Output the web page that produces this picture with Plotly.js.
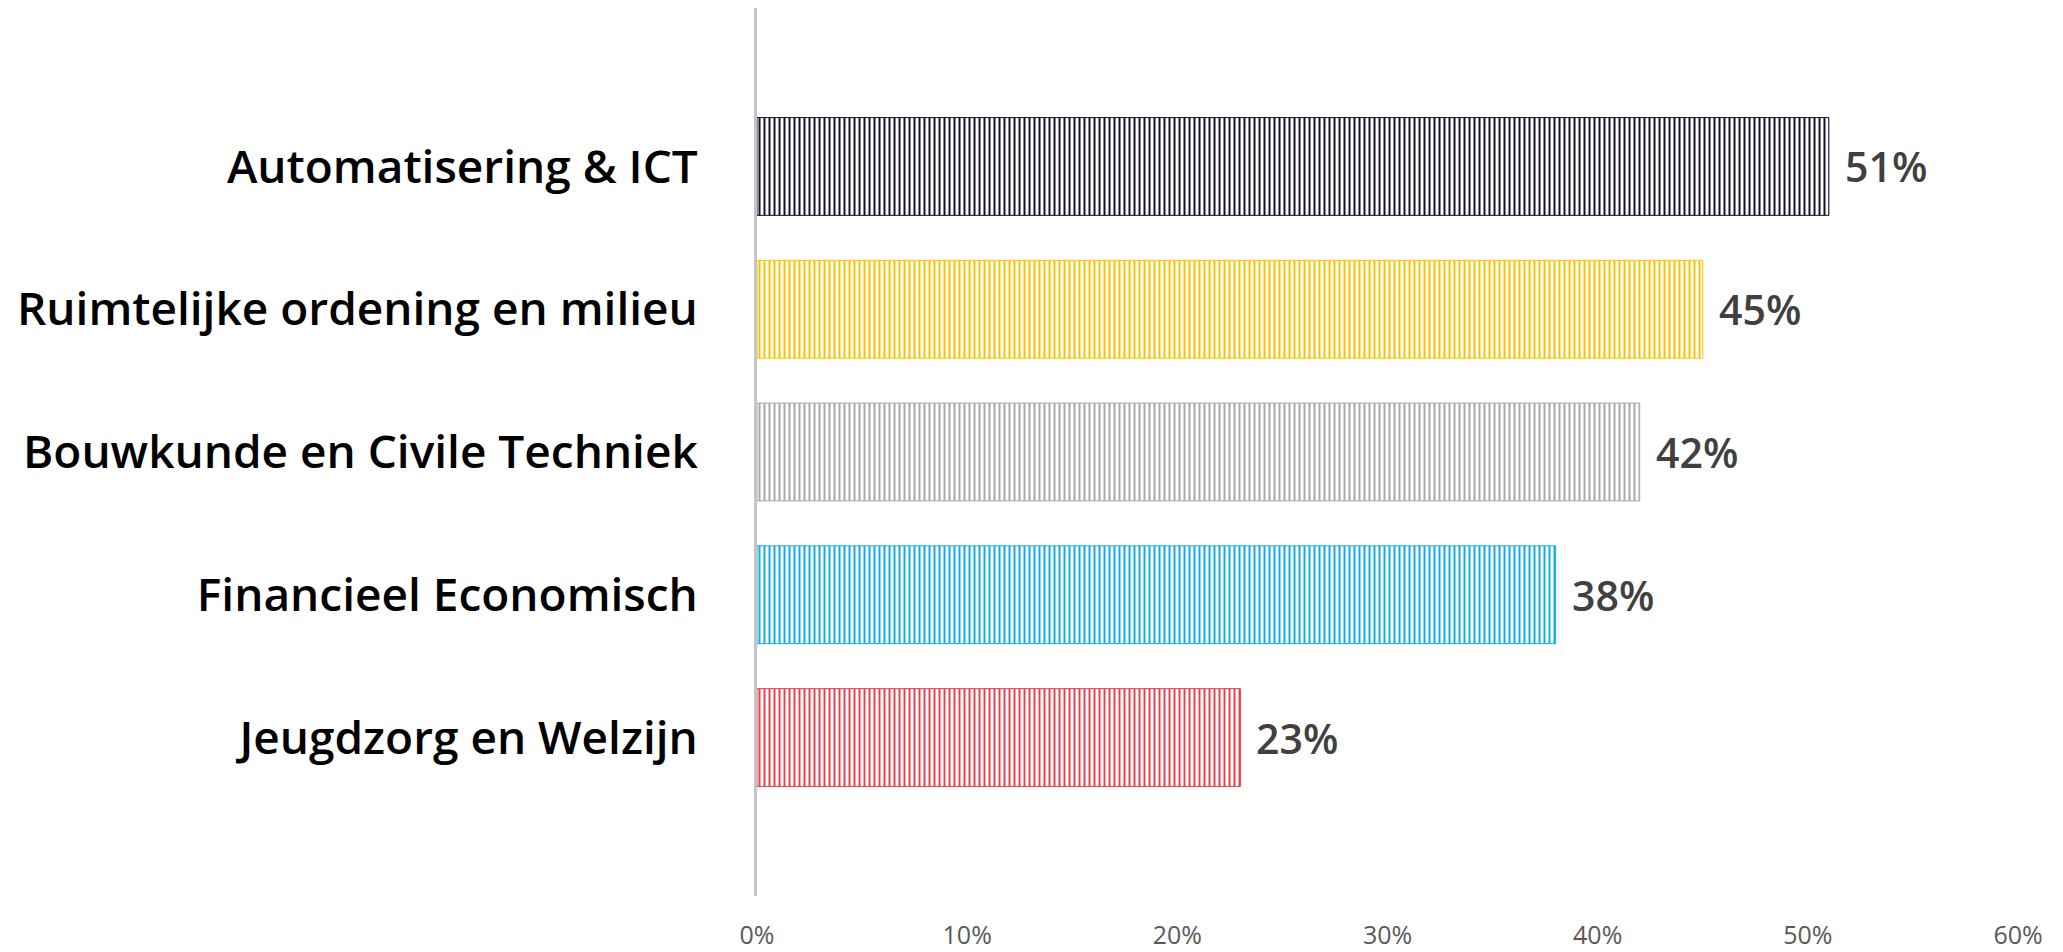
<!DOCTYPE html>
<html>
<head>
<meta charset="utf-8">
<script src="https://cdn.plot.ly/plotly-3.0.1.min.js"></script>
<style>html,body{margin:0;padding:0;background:#fff;}#chart{width:2063px;height:952px;}</style>
</head>
<body>
<div id="chart"></div>
<script>
// Data (bottom to top order as drawn)
var categories = ["Jeugdzorg en Welzijn", "Financieel Economisch", "Bouwkunde en Civile Techniek", "Ruimtelijke ordening en milieu", "Automatisering & ICT"];
var values = [23, 38, 42, 45, 51];
var valueLabels = ["23%", "38%", "42%", "45%", "51%"];
var stripeColors = ["#e8404c", "#10ace8", "#a8a8a8", "#ffc000", "#15122b"];
var backColors = ["#f8c4c8", "#b0e2f8", "#e2e2e2", "#ffe6a0", "#aaa2e2"];
var xTickVals = [0, 10, 20, 30, 40, 50, 60];
var xTickText = ["0%", "10%", "20%", "30%", "40%", "50%", "60%"];

var trace = {
  type: "bar",
  orientation: "h",
  y: categories,
  x: values,
  marker: {
    color: stripeColors,
    line: {color: stripeColors, width: 1},
    pattern: {shape: "|", fgcolor: backColors, bgcolor: stripeColors, size: 5, solidity: 0.4, fillmode: "replace"}
  },
  hoverinfo: "none",
  cliponaxis: false
};

var annotations = values.map(function (v, i) {
  return {
    x: v, y: categories[i], xref: "x", yref: "y",
    text: valueLabels[i], showarrow: false,
    xanchor: "left", yanchor: "middle", xshift: 14,
    font: {family: "Open Sans", size: 41, color: "#404040", weight: 600}
  };
});

var layout = {
  width: 2063, height: 952,
  margin: {l: 757, r: 45, t: 8, b: 56},
  paper_bgcolor: "#ffffff",
  plot_bgcolor: "#ffffff",
  showlegend: false,
  bargap: 0.315,
  xaxis: {
    range: [0, 60],
    tickvals: xTickVals, ticktext: xTickText,
    showgrid: false, zeroline: false, showline: false,
    ticks: "", ticklabelstandoff: 22,
    tickfont: {family: "Open Sans", size: 25, color: "#595959"},
    fixedrange: true
  },
  yaxis: {
    type: "category",
    range: [-1.11, 5.11],
    showgrid: false, zeroline: false,
    showline: true, linecolor: "#c4c4c4", linewidth: 3,
    ticks: "", ticklabelstandoff: 47,
    tickfont: {family: "Open Sans", size: 46, color: "#000000", weight: 600},
    fixedrange: true
  },
  annotations: annotations
};

Plotly.newPlot("chart", [trace], layout, {displayModeBar: false, staticPlot: true});
</script>
</body>
</html>
